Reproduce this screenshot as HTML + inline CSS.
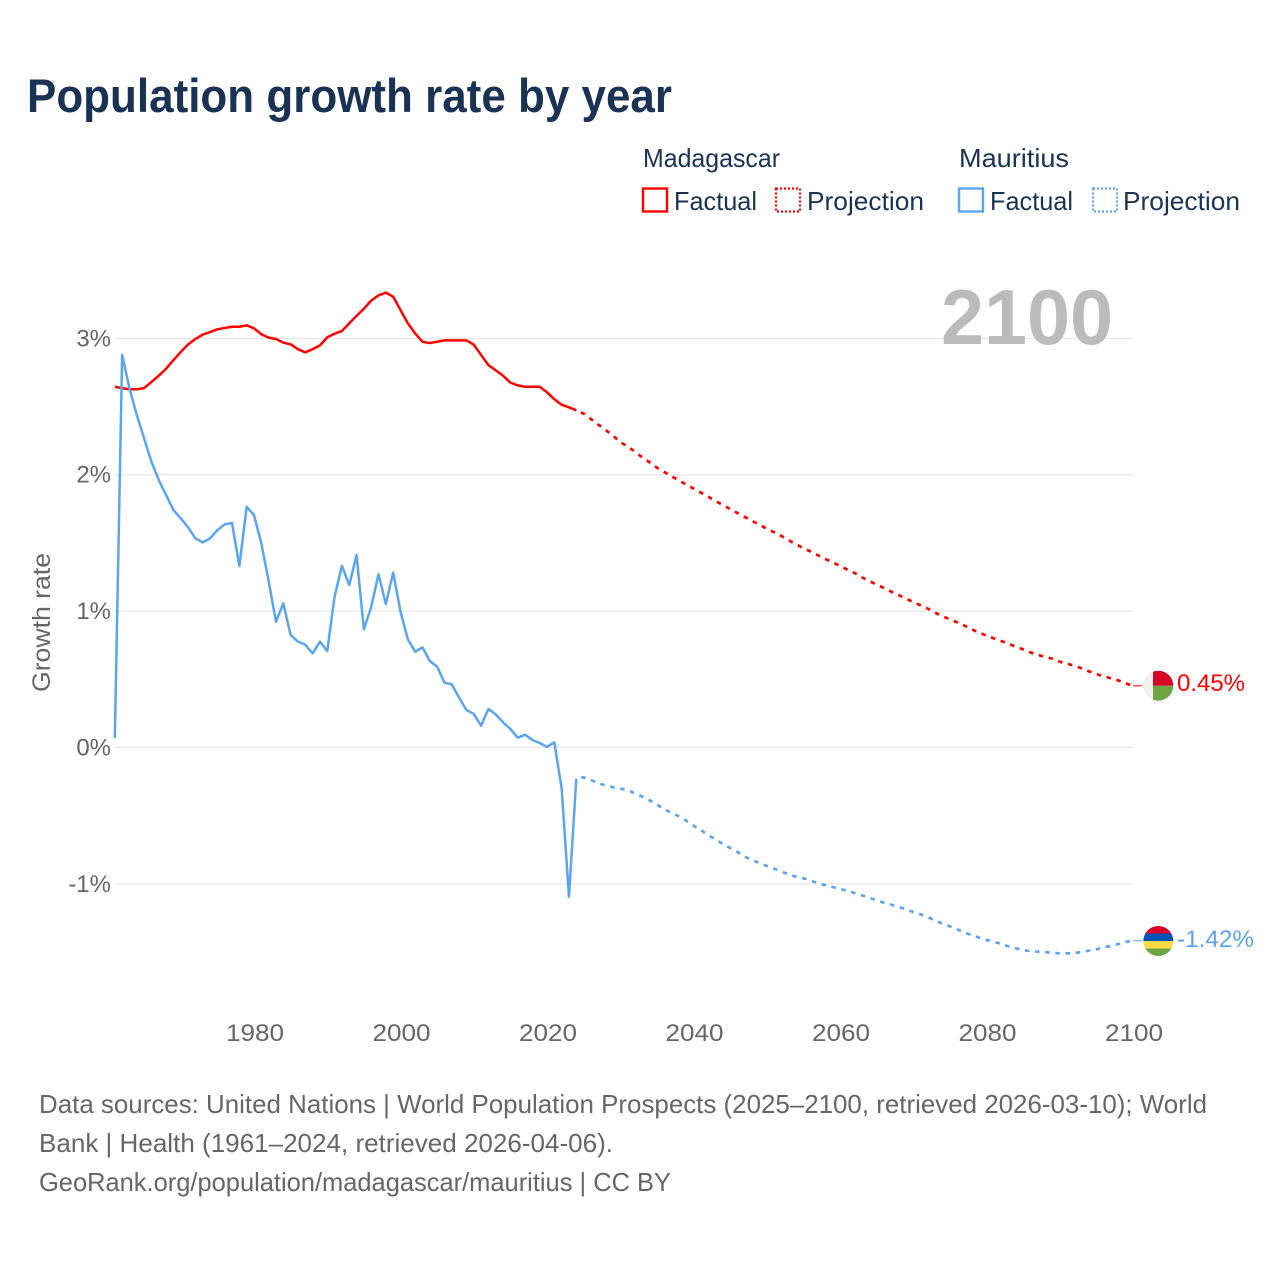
<!DOCTYPE html>
<html lang="en">
<head>
<meta charset="utf-8">
<title>Population growth rate by year</title>
<style>
html,body{margin:0;padding:0;background:#fff;}
svg{display:block;}
text{font-family:"Liberation Sans",sans-serif;}
</style>
</head>
<body>
<svg id="chart" xmlns="http://www.w3.org/2000/svg" width="1280" height="1280" viewBox="0 0 1280 1280">
  <rect width="1280" height="1280" fill="#fff"/>
  <text x="27" y="112" font-size="47" font-weight="700" fill="#1a3354" textLength="645" lengthAdjust="spacingAndGlyphs">Population growth rate by year</text>

  <g font-size="26" fill="#1a3354">
    <text x="643" y="167" textLength="137" lengthAdjust="spacingAndGlyphs">Madagascar</text>
    <text x="959" y="167" textLength="110" lengthAdjust="spacingAndGlyphs">Mauritius</text>
    <rect x="643" y="188.5" width="24" height="23" fill="none" stroke="#ff0000" stroke-width="2.4"/>
    <text x="674" y="210" textLength="83" lengthAdjust="spacingAndGlyphs">Factual</text>
    <rect x="776" y="188.5" width="24" height="23" fill="none" stroke="#ff0000" stroke-width="2.2" stroke-dasharray="2 2"/>
    <text x="807" y="210" textLength="117" lengthAdjust="spacingAndGlyphs">Projection</text>
    <rect x="959" y="188.5" width="24" height="23" fill="none" stroke="#5ba5ee" stroke-width="2.4"/>
    <text x="990" y="210" textLength="83" lengthAdjust="spacingAndGlyphs">Factual</text>
    <rect x="1093" y="188.5" width="24" height="23" fill="none" stroke="#5ba5ee" stroke-width="2.2" stroke-dasharray="2 2"/>
    <text x="1123" y="210" textLength="117" lengthAdjust="spacingAndGlyphs">Projection</text>
  </g>

  <g id="grid"></g>
  <g id="yTicks" font-size="24" fill="#666"></g>
  <g id="xTicks" font-size="24" fill="#666"></g>

  <text transform="translate(50,622.5) rotate(-90)" text-anchor="middle" font-size="25" fill="#666" textLength="139" lengthAdjust="spacingAndGlyphs">Growth rate</text>
  <text x="941" y="344" font-size="78" font-weight="700" fill="#bbbbbb" textLength="172" lengthAdjust="spacingAndGlyphs">2100</text>

  <g id="series"></g>

  <g>
    <clipPath id="clipMg"><circle cx="1158.3" cy="685.7" r="15"/></clipPath>
    <g clip-path="url(#clipMg)">
      <rect x="1143" y="670" width="31" height="31" fill="#f0f0f0"/>
      <rect x="1153" y="670" width="21" height="15.7" fill="#d80027"/>
      <rect x="1153" y="685.7" width="21" height="16" fill="#6da544"/>
    </g>
  </g>
  <g>
    <clipPath id="clipMu"><circle cx="1158.3" cy="941" r="15"/></clipPath>
    <g clip-path="url(#clipMu)">
      <rect x="1143" y="926" width="31" height="7.5" fill="#d80027"/>
      <rect x="1143" y="933.5" width="31" height="7.5" fill="#0052b4"/>
      <rect x="1143" y="941" width="31" height="7.5" fill="#ffda44"/>
      <rect x="1143" y="948.5" width="31" height="7.5" fill="#6da544"/>
    </g>
  </g>
  <text id="endLabelRed" x="1177" y="691" font-size="24" fill="#ff0000" textLength="68" lengthAdjust="spacingAndGlyphs">0.45%</text>
  <text id="endLabelBlue" x="1177" y="947" font-size="24" fill="#5ba5ee" textLength="77" lengthAdjust="spacingAndGlyphs">-1.42%</text>

  <g font-size="26" fill="#666">
    <text x="39" y="1113" textLength="1168" lengthAdjust="spacingAndGlyphs">Data sources: United Nations | World Population Prospects (2025–2100, retrieved 2026-03-10); World</text>
    <text x="39" y="1152" textLength="574" lengthAdjust="spacingAndGlyphs">Bank | Health (1961–2024, retrieved 2026-04-06).</text>
    <text x="39" y="1191" textLength="632" lengthAdjust="spacingAndGlyphs">GeoRank.org/population/madagascar/mauritius | CC BY</text>
  </g>
</svg>
<script>
const xTickYears = [1980, 2000, 2020, 2040, 2060, 2080, 2100];
const yTickValues = [3, 2, 1, 0, -1];
const factualStartYear = 1961;
const projectionStartYear = 2024;

const madagascarFactual = [
  2.645,2.635,2.626,2.626,2.635,2.68,2.726,2.777,2.84,2.90,
  2.955,2.995,3.027,3.046,3.066,3.076,3.085,3.085,3.095,3.073,
  3.03,3.005,2.995,2.968,2.956,2.92,2.897,2.92,2.948,3.007,
  3.034,3.053,3.11,3.164,3.217,3.276,3.315,3.335,3.305,3.207,
  3.11,3.036,2.975,2.965,2.975,2.985,2.985,2.985,2.985,2.953,
  2.878,2.804,2.765,2.726,2.675,2.655,2.645,2.645,2.645,2.604,
  2.553,2.513,2.494,2.472
];
const madagascarProjection = [
  2.472,2.448,2.408,2.367,2.328,2.286,2.240,2.206,2.169,2.127,2.091,
  2.052,2.020,1.988,1.959,1.927,1.898,1.868,1.839,1.807,1.778,
  1.749,1.719,1.690,1.661,1.634,1.604,1.578,1.551,1.519,1.489,
  1.462,1.436,1.409,1.382,1.358,1.331,1.304,1.279,1.248,1.220,
  1.194,1.169,1.142,1.118,1.091,1.067,1.042,1.018,0.988,0.962,
  0.940,0.917,0.893,0.866,0.842,0.820,0.800,0.781,0.761,0.739,
  0.719,0.697,0.680,0.663,0.651,0.629,0.614,0.600,0.580,0.558,
  0.539,0.522,0.507,0.492,0.470,0.453
];
const mauritiusFactual = [
  0.07,2.878,2.633,2.437,2.266,2.095,1.961,1.851,1.741,1.68,
  1.614,1.533,1.504,1.533,1.594,1.636,1.646,1.33,1.765,1.704,
  1.497,1.22,0.922,1.057,0.825,0.776,0.754,0.690,0.776,0.707,
  1.106,1.331,1.191,1.411,0.866,1.032,1.270,1.052,1.282,0.996,
  0.793,0.703,0.734,0.634,0.593,0.475,0.463,0.365,0.275,0.246,
  0.160,0.282,0.243,0.184,0.136,0.072,0.094,0.055,0.033,0.004,
  0.038,-0.300,-1.094,-0.229
];
const mauritiusProjection = [
  -0.229,-0.219,-0.238,-0.263,-0.277,-0.292,-0.302,-0.312,-0.336,-0.360,-0.387,
  -0.419,-0.453,-0.478,-0.505,-0.536,-0.573,-0.605,-0.642,-0.673,-0.707,
  -0.737,-0.766,-0.800,-0.825,-0.847,-0.869,-0.888,-0.910,-0.930,-0.947,
  -0.959,-0.974,-0.998,-1.008,-1.023,-1.037,-1.050,-1.067,-1.084,-1.101,
  -1.120,-1.138,-1.152,-1.169,-1.186,-1.206,-1.223,-1.243,-1.270,-1.292,
  -1.311,-1.333,-1.355,-1.377,-1.394,-1.411,-1.424,-1.441,-1.458,-1.472,
  -1.485,-1.494,-1.497,-1.499,-1.507,-1.509,-1.509,-1.507,-1.499,-1.489,
  -1.480,-1.465,-1.455,-1.441,-1.426,-1.416
];

const SVGNS = 'http://www.w3.org/2000/svg';
const RED = '#ff0000';
const BLUE = '#5ba5ee';
const plotLeft = 115;
const plotRight = 1133;

function xScale(year) { return 254 + (year - 1980) * 7.325; }
function yScale(value) { return 747.5 - value * 136.4; }

function pointsFor(startYear, values) {
  return values.map(function (v, i) {
    return xScale(startYear + i).toFixed(2) + ',' + yScale(v).toFixed(2);
  }).join(' ');
}

const gridGroup = document.getElementById('grid');
const yGroup = document.getElementById('yTicks');
const xGroup = document.getElementById('xTicks');
const seriesGroup = document.getElementById('series');

yTickValues.forEach(function (v) {
  const line = document.createElementNS(SVGNS, 'line');
  
  
  line.setAttribute('x1', plotLeft);
  line.setAttribute('x2', plotRight);
  line.setAttribute('y1', yScale(v));
  line.setAttribute('y2', yScale(v));
  line.setAttribute('stroke', '#e6e6e6');
  line.setAttribute('stroke-width', '1.2');
  gridGroup.appendChild(line);

  const label = document.createElementNS(SVGNS, 'text');
  
  
  label.setAttribute('x', 111);
  label.setAttribute('y', yScale(v) + 8);
  label.setAttribute('text-anchor', 'end');
  label.textContent = v + '%';
  yGroup.appendChild(label);
});

xTickYears.forEach(function (yr) {
  const label = document.createElementNS(SVGNS, 'text');
  
  
  label.setAttribute('x', xScale(yr) + 1);
  label.setAttribute('y', 1041);
  label.setAttribute('text-anchor', 'middle');
  label.setAttribute('textLength', '58');
  label.setAttribute('lengthAdjust', 'spacingAndGlyphs');
  label.textContent = yr;
  xGroup.appendChild(label);
});

function drawLine(name, startYear, values, color, dashed) {
  const line = document.createElementNS(SVGNS, 'polyline');
  
  
  line.setAttribute('points', pointsFor(startYear, values));
  line.setAttribute('fill', 'none');
  line.setAttribute('stroke', color);
  line.setAttribute('stroke-width', dashed ? '2.7' : '2.5');
  line.setAttribute('stroke-linejoin', 'round');
  if (dashed) {
    line.setAttribute('stroke-dasharray', '4.5 5.7');
    line.setAttribute('stroke-dashoffset', '-5');
  }
  seriesGroup.appendChild(line);
}

function drawLeader(name, value, color) {
  const line = document.createElementNS(SVGNS, 'line');
  
  
  line.setAttribute('x1', xScale(2100));
  line.setAttribute('x2', xScale(2100) + 9);
  line.setAttribute('y1', yScale(value));
  line.setAttribute('y2', yScale(value));
  line.setAttribute('stroke', color);
  line.setAttribute('stroke-width', '1.5');
  line.setAttribute('opacity', '0.7');
  seriesGroup.appendChild(line);
}

drawLine('madagascar-factual-line', factualStartYear, madagascarFactual, RED, false);
drawLine('madagascar-projection-line', projectionStartYear, madagascarProjection, RED, true);
drawLine('mauritius-factual-line', factualStartYear, mauritiusFactual, BLUE, false);
drawLine('mauritius-projection-line', projectionStartYear, mauritiusProjection, BLUE, true);
drawLeader('madagascar-leader-line', madagascarProjection[madagascarProjection.length - 1], RED);
drawLeader('mauritius-leader-line', mauritiusProjection[mauritiusProjection.length - 1], BLUE);
</script>
</body>
</html>
